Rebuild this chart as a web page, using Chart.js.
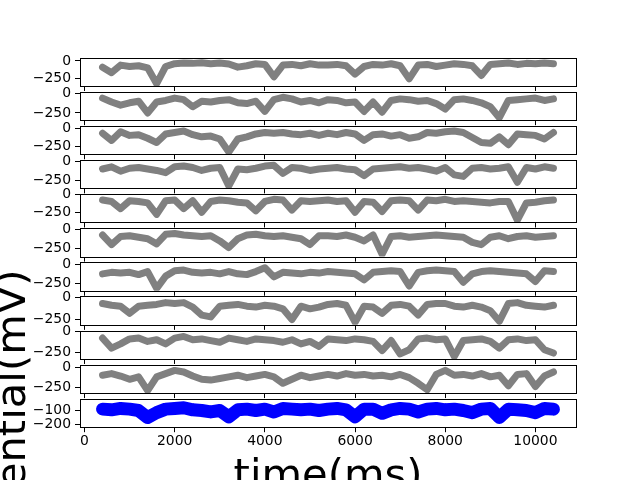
<!DOCTYPE html>
<html>
<head>
<meta charset="utf-8">
<script src="https://cdn.jsdelivr.net/npm/chart.js@4.4.1/dist/chart.umd.min.js"></script>
<style>
html,body{margin:0;padding:0;background:#fff;}
#wrap{position:relative;width:640px;height:480px;overflow:hidden;background:#fff;}
#wrap canvas{position:absolute;left:0;top:0;}
</style>
</head>
<body>
<div id="wrap"></div>
<script>
// ---------------- data ----------------
const times = [400,600,800,1000,1200,1400,1600,1800,2000,2200,2400,2600,2800,3000,3200,3400,3600,3800,4000,4200,4400,4600,4800,5000,5200,
               5400,5600,5800,6000,6200,6400,6600,6800,7000,7200,7400,7600,7800,8000,8200,8400,8600,8800,9000,9200,9400,9600,9800,10000,10200,10400];

const cell1 = [-90,-170,-60,-80,-70,-100,-330,-80,-40,-30,-35,-25,-40,-30,-45,-90,-70,-40,-50,-230,-60,-50,-70,-40,-60,
               -60,-50,-70,-190,-80,-50,-60,-40,-70,-260,-60,-50,-80,-60,-40,-50,-70,-210,-50,-40,-30,-50,-35,-40,-30,-40];
const cell2 = [-60,-110,-150,-120,-100,-250,-110,-90,-60,-80,-170,-100,-110,-90,-80,-120,-130,-100,-230,-80,-50,-70,-110,-90,-120,
               -80,-90,-120,-110,-230,-110,-240,-90,-70,-80,-100,-90,-130,-200,-80,-70,-90,-120,-170,-310,-90,-80,-70,-60,-90,-70];
const cell3 = [-70,-170,-50,-100,-90,-140,-200,-80,-60,-40,-90,-120,-110,-150,-330,-150,-120,-80,-60,-70,-60,-80,-90,-70,-100,
               -70,-90,-60,-80,-170,-90,-80,-110,-90,-140,-120,-60,-70,-50,-40,-60,-130,-200,-210,-120,-230,-80,-90,-100,-150,-60];
const cell4 = [-100,-70,-130,-90,-80,-100,-120,-150,-70,-60,-80,-120,-90,-80,-330,-100,-110,-90,-60,-50,-160,-80,-90,-120,-100,
               -90,-80,-100,-110,-190,-100,-90,-80,-70,-90,-80,-100,-130,-80,-180,-200,-90,-80,-100,-90,-70,-280,-80,-100,-70,-90];
const cell5 = [-80,-100,-200,-90,-100,-120,-280,-90,-80,-200,-90,-250,-100,-80,-90,-110,-120,-230,-100,-70,-80,-220,-90,-100,-90,
               -80,-100,-90,-250,-100,-110,-240,-90,-80,-90,-220,-80,-90,-70,-100,-90,-100,-110,-120,-100,-100,-360,-120,-110,-90,-80];
const cell6 = [-70,-200,-90,-80,-100,-120,-190,-60,-50,-70,-80,-90,-80,-150,-240,-120,-70,-60,-80,-90,-80,-100,-120,-200,-80,
               -80,-90,-70,-100,-150,-70,-330,-90,-80,-100,-90,-80,-70,-80,-90,-100,-170,-200,-100,-80,-120,-90,-80,-100,-90,-80];
const cell7 = [-120,-100,-110,-100,-130,-90,-310,-150,-80,-70,-100,-110,-100,-120,-90,-120,-130,-90,-40,-160,-100,-110,-120,-100,-110,
               -90,-100,-110,-120,-200,-100,-90,-80,-90,-280,-100,-80,-70,-80,-90,-230,-120,-90,-80,-90,-100,-110,-120,-220,-80,-90];
const cell8 = [-70,-90,-100,-180,-100,-90,-80,-60,-70,-60,-110,-200,-220,-100,-90,-80,-100,-110,-90,-100,-130,-250,-100,-130,-110,
               -80,-70,-90,-280,-100,-110,-180,-90,-80,-100,-200,-80,-70,-70,-100,-110,-90,-110,-150,-270,-70,-60,-90,-100,-110,-90];
const cell9 = [-80,-200,-150,-90,-80,-120,-100,-150,-80,-60,-100,-90,-110,-130,-80,-100,-120,-90,-100,-110,-130,-100,-150,-120,-180,
               -90,-100,-110,-90,-100,-120,-230,-110,-270,-220,-90,-80,-100,-90,-300,-110,-100,-90,-120,-200,-100,-90,-110,-100,-220,-260];
const cell10 = [-100,-80,-110,-150,-120,-290,-120,-80,-40,-60,-110,-150,-160,-140,-120,-100,-130,-110,-90,-120,-200,-150,-100,-130,-110,
                -90,-110,-80,-100,-90,-110,-100,-120,-90,-130,-200,-280,-90,-40,-100,-90,-110,-80,-120,-100,-230,-90,-80,-240,-110,-60];
const population = [-90,-95,-85,-90,-100,-150,-115,-90,-85,-80,-95,-100,-110,-100,-145,-95,-90,-100,-90,-110,-85,-90,-95,-90,-100,
                    -90,-85,-95,-145,-90,-90,-120,-95,-85,-90,-110,-90,-85,-95,-90,-100,-115,-90,-85,-150,-90,-95,-100,-115,-85,-90];

const xTicks = [0,2000,4000,6000,8000,10000];
const yTicksCell = [0,-250];
const yTicksPopulation = [-100,-200];
const xLabel = 'time(ms)';
const yLabel = 'potential(mV)';

// ---------------- layout (matplotlib-like subplot grid) ----------------
const W = 640, H = 480;
const gridTop = 0.12 * H, gridBottom = 0.89 * H;
const axLeft = 0.125 * W, axRight = 0.9 * W;
const traces = [cell1,cell2,cell3,cell4,cell5,cell6,cell7,cell8,cell9,cell10,population];
const n = traces.length;
const hspace = 0.2;
const axH = (gridBottom - gridTop) / (n + (n - 1) * hspace);
const gap = axH * hspace;

Chart.defaults.font.family = "'DejaVu Sans', sans-serif";
Chart.defaults.font.size = 13.9;
Chart.defaults.color = '#000';

const fmt = v => String(v).replace('-', '\u2212');

const framePlugin = {
  id: 'frame',
  afterDraw(chart, args, opts) {
    const {ctx, chartArea: a} = chart;
    ctx.save();
    ctx.strokeStyle = '#000';
    ctx.lineWidth = 1;
    const l = Math.round(a.left) + 0.5, t = Math.round(a.top) + 0.5;
    const r = Math.round(a.right) + 0.5, b = Math.round(a.bottom) + 0.5;
    ctx.strokeRect(l, t, r - l, b - t);
    if (opts && opts.labels) {
      ctx.fillStyle = '#000';
      ctx.font = "41.67px 'DejaVu Sans', sans-serif";
      ctx.textAlign = 'center';
      ctx.textBaseline = 'alphabetic';
      ctx.fillText(xLabel, (a.left + a.right) / 2, 488);
      ctx.translate(25, (a.top + a.bottom) / 2);
      ctx.rotate(-Math.PI / 2);
      ctx.fillText(yLabel, 0, 0);
    }
    ctx.restore();
  }
};

const wrap = document.getElementById('wrap');
traces.forEach((vals, i) => {
  const isLast = i === n - 1;
  const top = gridTop + i * (axH + gap);
  const bottom = top + axH;
  const xAxisH = isLast ? 40 : 6;
  const lo = Math.min(...vals) - (isLast ? 60 : 15), hi = Math.max(...vals) + 55;
  const pad = (hi - lo) * 0.05;
  const yTicks = isLast ? yTicksPopulation : yTicksCell;

  const cv = document.createElement('canvas');
  cv.width = W; cv.height = H;
  cv.style.width = W + 'px'; cv.style.height = H + 'px';
  wrap.appendChild(cv);

  new Chart(cv, {
    type: 'line',
    data: {
      datasets: [{
        data: times.map((t, k) => ({x: t, y: vals[k]})),
        borderColor: isLast ? '#0000ff' : '#808080',
        borderWidth: isLast ? 13 : 7,
        pointRadius: 0,
        tension: 0,
        borderJoinStyle: 'round',
        borderCapStyle: 'round',
        fill: false
      }]
    },
    options: {
      responsive: false,
      animation: false,
      devicePixelRatio: 1,
      events: [],
      layout: {padding: {top: top, left: 0, right: W - axRight, bottom: H - bottom - xAxisH}},
      plugins: {legend: {display: false}, tooltip: {enabled: false}, frame: {labels: isLast}},
      scales: {
        x: {
          type: 'linear', min: -100, max: 10900,
          border: {display: false},
          grid: {drawOnChartArea: false, drawTicks: true, tickLength: 5, color: '#000', lineWidth: 1},
          ticks: {display: isLast, padding: 1, maxRotation: 0, autoSkip: false, callback: fmt},
          afterBuildTicks: s => { s.ticks = xTicks.map(v => ({value: v})); },
          afterFit: s => { s.height = xAxisH; }
        },
        y: {
          type: 'linear', min: lo - pad, max: hi + pad,
          border: {display: false},
          grid: {drawOnChartArea: false, drawTicks: true, tickLength: 5, color: '#000', lineWidth: 1},
          ticks: {padding: 4, autoSkip: false, callback: fmt},
          afterBuildTicks: s => { s.ticks = yTicks.map(v => ({value: v})); },
          afterFit: s => { s.width = axLeft; }
        }
      }
    },
    plugins: [framePlugin]
  });
});
</script>
</body>
</html>
